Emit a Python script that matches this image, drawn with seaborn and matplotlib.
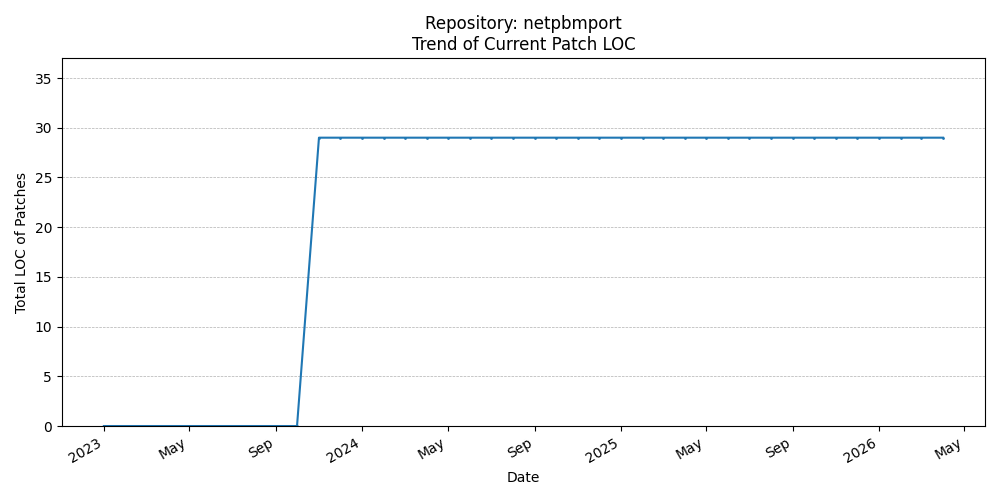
import pandas as pd
import numpy as np
import matplotlib
matplotlib.use('Agg')
import matplotlib.pyplot as plt
import matplotlib.dates as mdates
import seaborn as sns

repo = 'netpbmport'
dates = pd.date_range('2023-01-01', '2026-04-01', freq='MS')
loc_values = [0] * 10 + [29] * 30

df = pd.DataFrame({'date': dates, 'loc': loc_values})

fig, ax = plt.subplots(figsize=(10, 5), dpi=100)
sns.lineplot(data=df, x='date', y='loc', marker='o', markersize=2,
             markeredgewidth=0, color='#1f77b4', ax=ax)

ax.set_ylim(0, 37)
ax.grid(axis='y', linestyle='--', linewidth=0.5)
ax.set_title(f'Repository: {repo}\nTrend of Current Patch LOC')
ax.set_xlabel('Date')
ax.set_ylabel('Total LOC of Patches')

ax.xaxis.set_major_locator(mdates.MonthLocator(bymonth=[1, 5, 9]))
ax.xaxis.set_major_formatter(
    plt.FuncFormatter(lambda v, p: mdates.num2date(v).strftime('%Y') if mdates.num2date(v).month == 1
                      else mdates.num2date(v).strftime('%b')))
fig.autofmt_xdate()

plt.tight_layout()
plt.savefig('out.png')
